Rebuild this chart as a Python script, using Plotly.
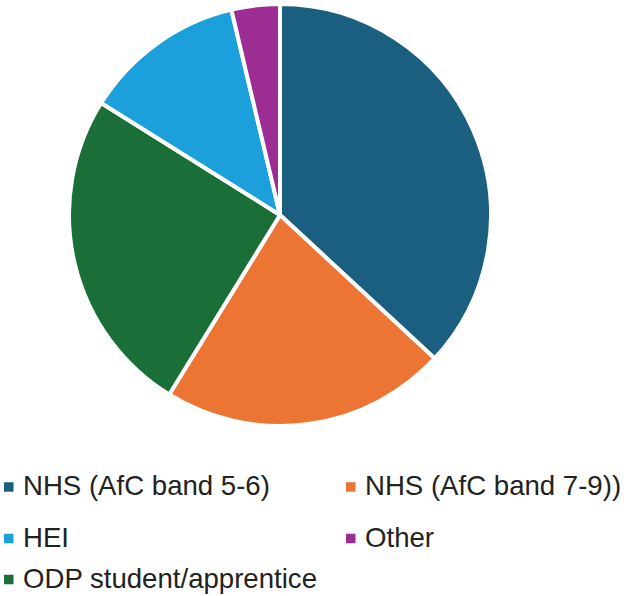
import plotly.graph_objects as go

W, H = 624, 596

# Data (percent share)
labels = ["NHS (AfC band 5-6)", "NHS (AfC band 7-9))", "ODP student/apprentice", "HEI", "Other"]
values = [36.9, 21.9, 25.1, 12.4, 3.7]
colors = ["#1A5F80", "#ED7534", "#1A6E37", "#1BA0DB", "#9C2D93"]

# Legend layout order (row-major, two columns)
legend_order = ["NHS (AfC band 5-6)", "NHS (AfC band 7-9))", "HEI", "Other", "ODP student/apprentice"]

cx, cy, r = 280, 215, 211

def px_x(x):
    return x / W

def px_y(y):
    return 1 - y / H

fig = go.Figure()
fig.add_trace(go.Pie(
    labels=labels,
    values=values,
    sort=False,
    direction="clockwise",
    rotation=0,
    marker=dict(colors=colors, line=dict(color="white", width=4)),
    textinfo="none",
    hoverinfo="label+percent",
    showlegend=False,
    domain=dict(x=[px_x(cx - r), px_x(cx + r)], y=[px_y(cy + r), px_y(cy - r)]),
))

col_x = [4, 346]
row_y = [487, 538.5, 579.5]
shapes = []
annotations = []
color_of = dict(zip(labels, colors))
for i, lab in enumerate(legend_order):
    row, col = divmod(i, 2)
    x0 = col_x[col]
    yc = row_y[row]
    shapes.append(dict(type="rect", xref="paper", yref="paper",
                       x0=px_x(x0), x1=px_x(x0 + 9.5),
                       y0=px_y(yc + 4.75), y1=px_y(yc - 4.75),
                       fillcolor=color_of[lab], line=dict(width=0)))
    annotations.append(dict(text=lab, xref="paper", yref="paper",
                            x=px_x(x0 + 17), y=px_y(yc - 1.5),
                            xanchor="left", yanchor="middle", showarrow=False,
                            font=dict(family="Liberation Sans, Arial, sans-serif", size=27.6, color="#222222")))

fig.update_layout(
    width=W, height=H,
    margin=dict(l=0, r=0, t=0, b=0),
    paper_bgcolor="white",
    plot_bgcolor="white",
    shapes=shapes,
    annotations=annotations,
)

fig.write_html("out.html")
